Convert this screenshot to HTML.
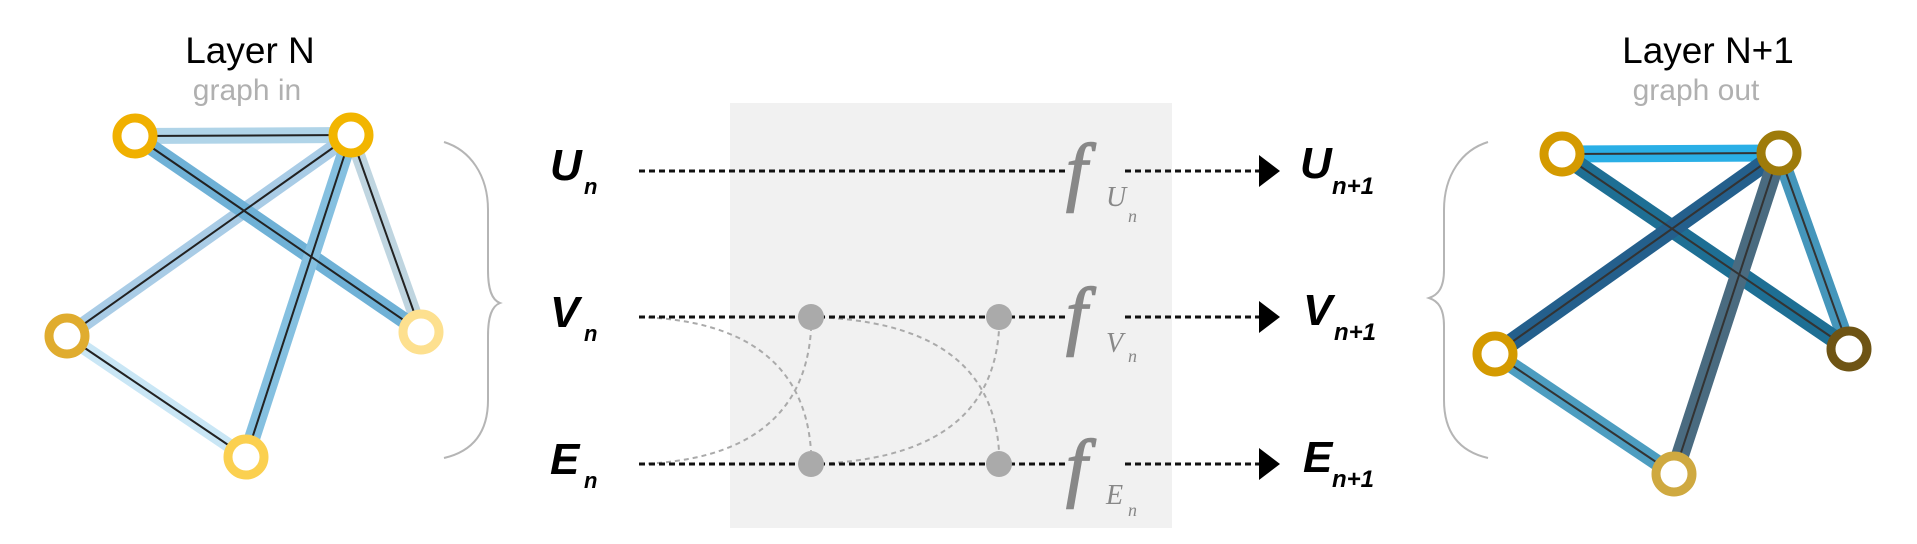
<!DOCTYPE html>
<html><head><meta charset="utf-8"><style>
html,body{margin:0;padding:0;background:#fff;}
svg{display:block;}
</style></head><body>
<svg width="1917" height="544" viewBox="0 0 1917 544" xmlns="http://www.w3.org/2000/svg">
<rect x="730" y="103" width="442" height="425" fill="#f1f1f1"/>

<g font-family="Liberation Sans, sans-serif" text-anchor="middle">
<text x="250" y="63" font-size="37" fill="#000">Layer N</text>
<text x="247" y="100" font-size="30" fill="#b0b0b0">graph in</text>
<text x="1708" y="63" font-size="37" fill="#000">Layer N+1</text>
<text x="1696" y="100" font-size="30" fill="#b0b0b0">graph out</text>
</g>

<g stroke-linecap="butt">
<line x1="135" y1="136" x2="351" y2="135" stroke="#b0d4e8" stroke-width="16"/>
<line x1="67" y1="336" x2="246" y2="457" stroke="#c9e6f5" stroke-width="14"/>
<line x1="351" y1="135" x2="421" y2="332" stroke="#bfd5e0" stroke-width="14"/>
<line x1="351" y1="135" x2="67" y2="336" stroke="#a9cce6" stroke-width="15"/>
<line x1="135" y1="136" x2="421" y2="332" stroke="#6fb1d6" stroke-width="16"/>
<line x1="351" y1="135" x2="246" y2="457" stroke="#85c0e0" stroke-width="16"/>
<g stroke="#222" stroke-width="2">
<line x1="135" y1="136" x2="351" y2="135"/><line x1="67" y1="336" x2="246" y2="457"/>
<line x1="351" y1="135" x2="421" y2="332"/><line x1="351" y1="135" x2="67" y2="336"/>
<line x1="135" y1="136" x2="421" y2="332"/><line x1="351" y1="135" x2="246" y2="457"/>
</g>
</g>
<g fill="#fff" stroke-width="9">
<circle cx="135" cy="136" r="18" stroke="#f0b000"/>
<circle cx="351" cy="135" r="18" stroke="#f2b500"/>
<circle cx="67" cy="336" r="18" stroke="#e0ac2e"/>
<circle cx="421" cy="332" r="18" stroke="#fde08f"/>
<circle cx="246" cy="457" r="18" stroke="#fbd050"/>
</g>

<g>
<line x1="1562" y1="154" x2="1779" y2="153" stroke="#2aafe6" stroke-width="17"/>
<line x1="1495" y1="354" x2="1674" y2="474" stroke="#4d9dc0" stroke-width="16"/>
<line x1="1779" y1="153" x2="1849" y2="349" stroke="#4596bb" stroke-width="16"/>
<line x1="1562" y1="154" x2="1849" y2="349" stroke="#1e6f94" stroke-width="18"/>
<line x1="1779" y1="153" x2="1495" y2="354" stroke="#245f8c" stroke-width="18"/>
<line x1="1779" y1="153" x2="1674" y2="474" stroke="#4a6b80" stroke-width="18"/>
<g stroke="#333" stroke-width="2">
<line x1="1562" y1="154" x2="1779" y2="153"/><line x1="1495" y1="354" x2="1674" y2="474"/>
<line x1="1779" y1="153" x2="1849" y2="349"/><line x1="1562" y1="154" x2="1849" y2="349"/>
<line x1="1779" y1="153" x2="1495" y2="354"/><line x1="1779" y1="153" x2="1674" y2="474"/>
</g>
</g>
<g fill="#fff" stroke-width="9">
<circle cx="1562" cy="154" r="18" stroke="#d49a00"/>
<circle cx="1779" cy="153" r="18" stroke="#9e7b0a"/>
<circle cx="1495" cy="354" r="18" stroke="#d49a00"/>
<circle cx="1849" cy="349" r="18" stroke="#6e5414"/>
<circle cx="1674" cy="474" r="18" stroke="#cfa940"/>
</g>

<path d="M444 142 C470 150,488 175,488 210 L488 270 C488 290,492 300,500 303 C492 306,488 316,488 336 L488 400 C488 435,470 452,444 458" fill="none" stroke="#b5b5b5" stroke-width="2"/>
<path d="M1488 142 C1462 150,1444 175,1444 210 L1444 270 C1444 288,1438 295,1429 298 C1438 301,1444 308,1444 326 L1444 400 C1444 435,1462 452,1488 458" fill="none" stroke="#b5b5b5" stroke-width="2"/>

<g fill="none" stroke="#aaa" stroke-width="2" stroke-dasharray="5,4">
<path d="M639 317 C740 320,805 360,811 451"/>
<path d="M639 464 C740 461,805 421,811 330"/>
<path d="M811 317 C925 320,993 360,999 451"/>
<path d="M811 464 C925 461,993 421,999 330"/>
</g>

<g stroke="#111" stroke-width="3" stroke-dasharray="6,4">
<line x1="639" y1="171" x2="1066" y2="171"/>
<line x1="1125" y1="171" x2="1262" y2="171"/>
<line x1="639" y1="317" x2="1066" y2="317"/>
<line x1="1125" y1="317" x2="1262" y2="317"/>
<line x1="639" y1="464" x2="1066" y2="464"/>
<line x1="1125" y1="464" x2="1262" y2="464"/>
</g>
<g fill="#000">
<polygon points="1259,155 1280,171 1259,187"/>
<polygon points="1259,301 1280,317 1259,333"/>
<polygon points="1259,448 1280,464 1259,480"/>
</g>

<g fill="#aaa">
<circle cx="811" cy="317" r="13"/><circle cx="999" cy="317" r="13"/>
<circle cx="811" cy="464" r="13"/><circle cx="999" cy="464" r="13"/>
</g>

<g font-family="Liberation Serif, serif" font-style="italic" fill="#888">
<g stroke="#888" stroke-width="1.5">
<text x="1066" y="196" font-size="76">f</text>
<text x="1066" y="340" font-size="76">f</text>
<text x="1066" y="492" font-size="76">f</text>
</g>
<text x="1106" y="206" font-size="28">U</text><text x="1128" y="222" font-size="18">n</text>
<text x="1106" y="352" font-size="28">V</text><text x="1128" y="362" font-size="18">n</text>
<text x="1106" y="504" font-size="28">E</text><text x="1128" y="516" font-size="18">n</text>
</g>

<g font-family="Liberation Sans, sans-serif" font-weight="bold" font-style="italic" fill="#000">
<text x="550" y="180" font-size="44">U</text><text x="584" y="194" font-size="22">n</text>
<text x="550" y="327" font-size="44">V</text><text x="584" y="341" font-size="22">n</text>
<text x="550" y="474" font-size="44">E</text><text x="584" y="488" font-size="22">n</text>
<text x="1300" y="178" font-size="44">U</text><text x="1332" y="194" font-size="24">n+1</text>
<text x="1303" y="325" font-size="44">V</text><text x="1334" y="340" font-size="24">n+1</text>
<text x="1303" y="472" font-size="44">E</text><text x="1332" y="487" font-size="24">n+1</text>
</g>
</svg>
</body></html>
